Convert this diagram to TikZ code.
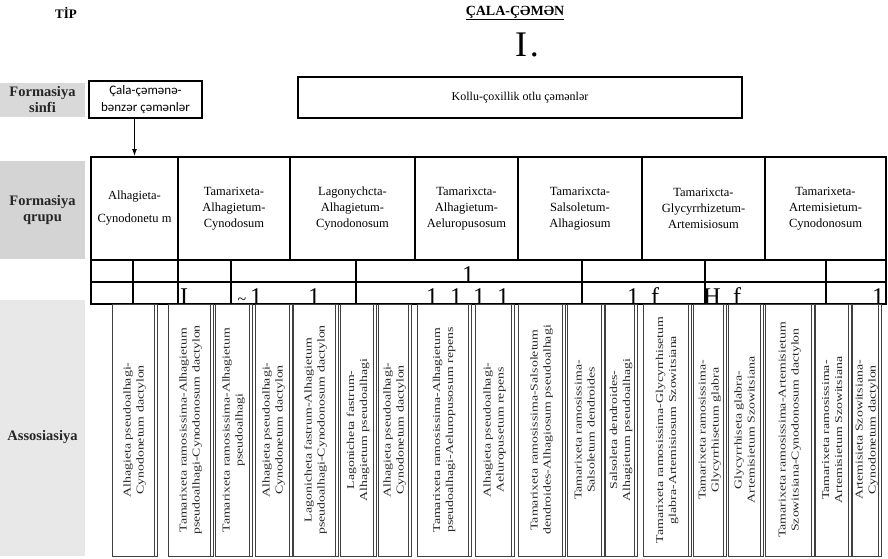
\documentclass[tikz,border=0pt]{standalone}
\usepackage{fontspec}
\setmainfont{Liberation Serif}
\newfontfamily\calafont{Carlito}
\usetikzlibrary{arrows.meta}

\tikzset{
  boxline/.style={draw=black, line width=2pt},
  lblbox/.style={fill=black!17, inner sep=0pt, minimum width=85pt, align=center,
    font=\fontsize{14.5}{16}\selectfont\bfseries, text=black!85},
  grptext/.style={font=\fontsize{12.5}{16}\selectfont, align=center, inner sep=0pt},
  assocline/.style={draw=black!75, line width=0.8pt},
  junk/.style={font=\fontsize{24}{24}\selectfont, anchor=base, inner sep=0pt},
}
\newcommand{\assoctext}[2]{\rotatebox{90}{\scalebox{1.32}[1]{\fontsize{10.5}{13}\selectfont
  \begin{tabular}{@{}c@{}}#1\\#2\end{tabular}}}}

\begin{document}
\begin{tikzpicture}[x=1pt,y=-1pt]
  \useasboundingbox (0,0) rectangle (888,559);
  % heading
  \node[font=\fontsize{13}{13}\selectfont\bfseries] (tip) at (66,13) {TİP};
  \node[font=\fontsize{14}{14}\selectfont\bfseries] (tipname) at (515,13) {\underline{ÇALA-ÇƏMƏN}};
  \node[font=\fontsize{36}{36}\selectfont] (tipnum) at (527,45) {I\hspace{3pt}.};

  % formation class
  \node[lblbox, minimum height=34pt, fill=black!15] (lsinfi) at (42.5,100) {Formasiya\\sinfi};
  \node[boxline, minimum width=113pt, minimum height=37pt, inner sep=0pt, align=center,
    font=\calafont\fontsize{13}{17}\selectfont] (cala) at (145.5,99.5) {Çala-çəmənə-\\bənzər çəmənlər};
  \node[boxline, minimum width=444pt, minimum height=41pt, inner sep=0pt,
    font=\fontsize{12}{14}\selectfont] (kollu) at (520,98) {Kollu-çoxillik otlu çəmənlər};

  % formation groups
  \node[lblbox, minimum height=98pt] (lqrupu) at (42.5,210) {Formasiya\\qrupu};
  \foreach \xa/\xb/\txt [count=\i] in {
      91/178/{Alhagieta-\\[7pt]Cynodonetu m},
      178/290/{Tamarixeta-\\Alhagietum-\\Cynodosum},
      290/415/{Lagonychcta-\\Alhagietum-\\Cynodonosum},
      415/518/{Tamarixcta-\\Alhagietum-\\Aeluropusosum},
      518/642/{Tamarixcta-\\Salsoletum-\\Alhagiosum},
      642/765/{Tamarixcta-\\Glycyrrhizetum-\\Artemisiosum},
      765/886/{Tamarixeta-\\Artemisietum-\\Cynodonosum}}{
    \node[boxline, grptext, minimum width={(\xb-\xa)*1pt}, minimum height=103pt] (g\i)
      at ({(\xa+\xb)/2},208.5) {\txt};
  }
  \draw[-{Latex[length=7pt,width=5pt]}, line width=1pt] (g1.north |- cala.south) -- (g1.north);

  % two empty rows
  \foreach \xa/\xb in {91/133,133/178,178/231,231/356,356/582,582/705,705/826,826/886}{
    \draw[boxline] (\xa,260) rectangle (\xb,282);
    \draw[boxline] (\xa,282) rectangle (\xb,304);
  }
  \node[junk] (ra1) at (468,282) {1};
  \foreach \x/\t [count=\i] in {184/I,256/1,314/1,432/1,456/1,479/1,503/1,633/1,655/f,712/H,737/f,878/1}
    \node[junk] (rb\i) at (\x,304) {\t};
  \node[font=\fontsize{16}{16}\selectfont, inner sep=0pt] (rbt) at (242,301) {\textasciitilde};

  % associations
  \fill[black!9] (0,300) rectangle (85,556);
  \node[lblbox, fill=none] (lassoc) at (42.5,437) {Assosiasiya};
  \foreach \xa/\xb/\ta/\tb [count=\i] in {
      112/157/{Alhagieta pseudoalhagi-}/{Cynodonetum dactylon},
      168/213/{Tamarixeta ramosissima-Alhagietum}/{pseudoalhagi-Cynodonosum dactylon},
      215/252/{Tamarixeta ramosissima-Alhagietum}/{pseudoalhagi},
      255/292/{Alhagieta pseudoalhagi-}/{Cynodonetum dactylon},
      293/338/{Lagonicheta fastrum-Alhagietum}/{pseudoalhagi-Cynodonosum dactylon},
      340/376/{Lagonicheta fastrum-}/{Alhagietum pseudoalhagi},
      378/411/{Alhagieta pseudoalhagi-}/{Cynodonetum dactylon},
      417/471/{Tamarixeta ramosissima-Alhagietum}/{pseudoalhagi-Aeluropusosum repens},
      475/514/{Alhagieta pseudoalhagi-}/{Aeluropusetum repens},
      518/565/{Tamarixeta ramosissima-Salsoletum}/{dendroides-Alhagiosum pseudoalhagi},
      567/604/{Tamarixeta ramosissima-}/{Salsoletum dendroides},
      605/637/{Salsoleta dendroides-}/{Alhagietum pseudoalhagi},
      643/691/{Tamarixeta ramosissima-Glycyrrhisetum}/{glabra-Artemisiosum Szowitsiana},
      693/726/{Tamarixeta ramosissima-}/{Glycyrrhisetum glabra},
      728/763/{Glycyrrhiseta glabra-}/{Artemisietum Szowitsiana},
      765/814/{Tamarixeta ramosissima-Artemisietum}/{Szowitsiana-Cynodonosum dactylon},
      815/851/{Tamarixeta ramosissima-}/{Artemisietum Szowitsiana},
      852/881/{Artemisieta Szowitsiana-}/{Cynodonetum dactylon}}{
    \node[assocline, minimum width={(\xb-\xa)*1pt}, minimum height=252pt, inner sep=0pt,
      text=black!85] (a\i) at ({(\xa+\xb)/2},430) {\assoctext{\ta}{\tb}};
    \draw[assocline] ([xshift=-3pt]a\i.north east) -- ([xshift=-3pt]a\i.south east);
  }
\end{tikzpicture}
\end{document}
